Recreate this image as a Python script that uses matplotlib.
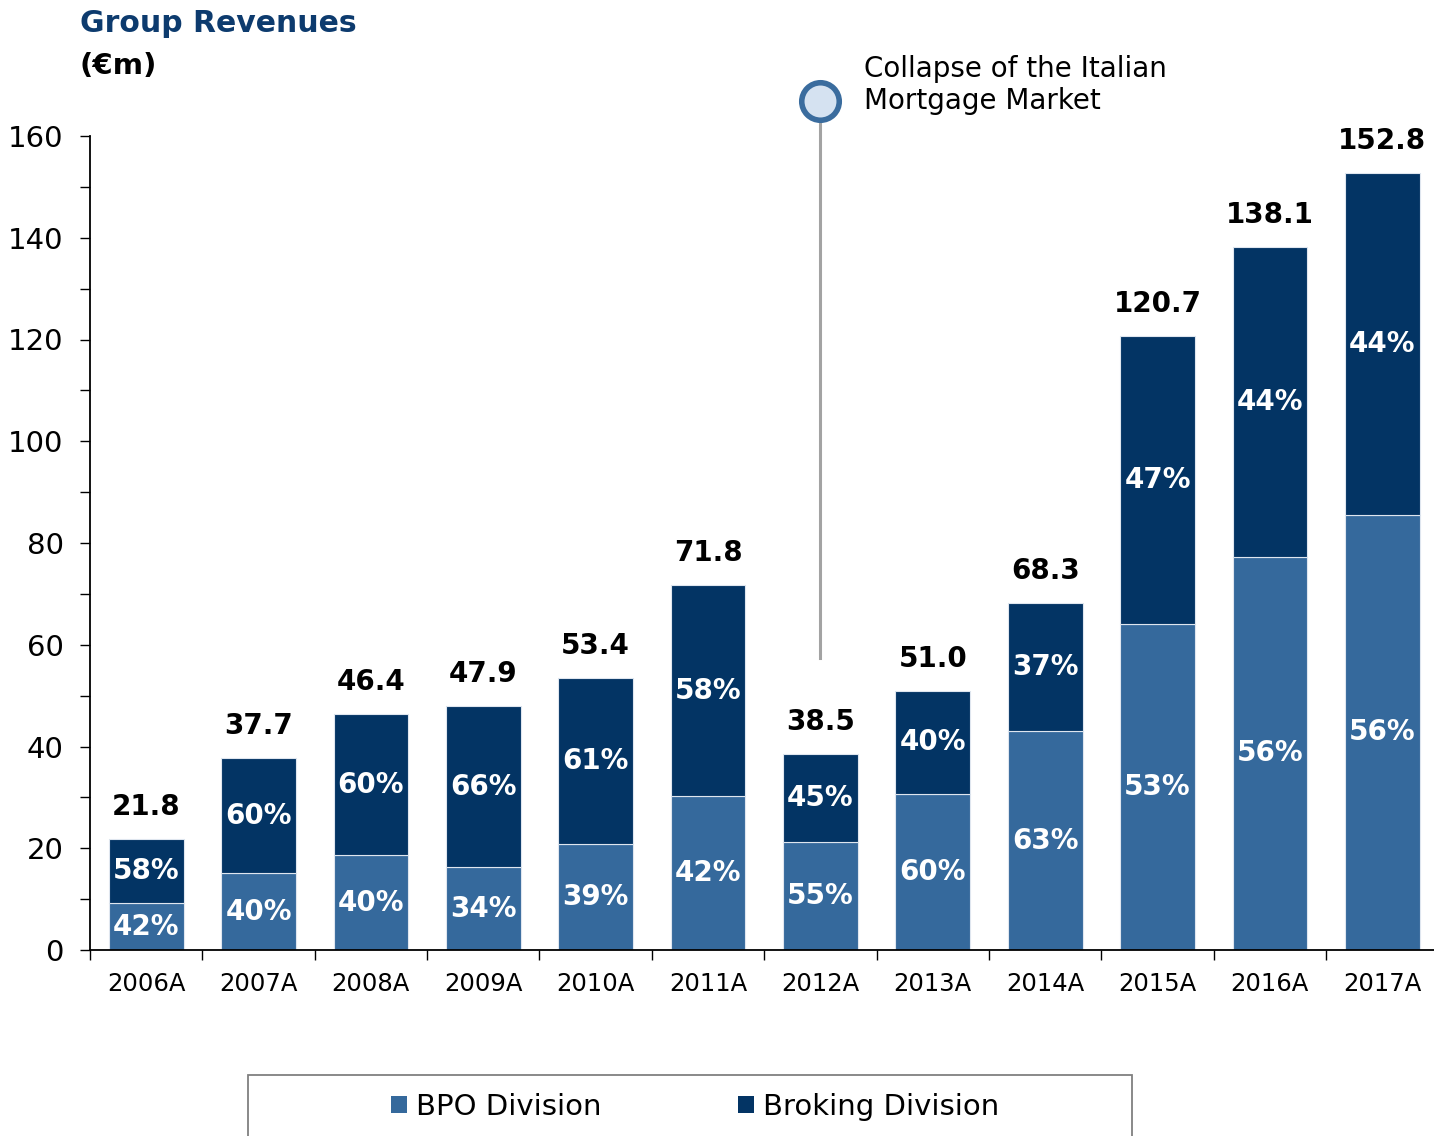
import matplotlib
matplotlib.use("Agg")
import matplotlib.pyplot as plt
from matplotlib.ticker import MultipleLocator, FixedLocator
from matplotlib.patches import Rectangle, Patch

# ---- data ----
years = ["2006A", "2007A", "2008A", "2009A", "2010A", "2011A",
         "2012A", "2013A", "2014A", "2015A", "2016A", "2017A"]
totals = [21.8, 37.7, 46.4, 47.9, 53.4, 71.8, 38.5, 51.0, 68.3, 120.7, 138.1, 152.8]
bpo = [9.2, 15.1, 18.6, 16.3, 20.8, 30.2, 21.2, 30.6, 43.0, 64.0, 77.3, 85.6]
broking = [12.6, 22.6, 27.8, 31.6, 32.6, 41.6, 17.3, 20.4, 25.3, 56.7, 60.8, 67.2]
bpo_pct = ["42%", "40%", "40%", "34%", "39%", "42%", "55%", "60%", "63%", "53%", "56%", "56%"]
broking_pct = ["58%", "60%", "60%", "66%", "61%", "58%", "45%", "40%", "37%", "47%", "44%", "44%"]
total_labels = ["21.8", "37.7", "46.4", "47.9", "53.4", "71.8", "38.5", "51.0", "68.3", "120.7", "138.1", "152.8"]
event_year = "2012A"
event_text = "Collapse of the Italian\nMortgage Market"

BPO_C = "#35699C"
BRK_C = "#033464"
TITLE_C = "#0D3B6E"

plt.rcParams["font.family"] = ["DejaVu Sans"]

fig = plt.figure(figsize=(14.34, 11.36), dpi=100)
ax = fig.add_axes([90/1434, 1-950/1136, 1-90/1434, (950-136)/1136])

x = list(range(len(years)))
w = 0.665
ax.bar(x, bpo, width=w, color=BPO_C, edgecolor="#dfe6ef", linewidth=0.8, label="BPO Division", zorder=2)
ax.bar(x, broking, width=w, bottom=bpo, color=BRK_C, edgecolor="#dfe6ef", linewidth=0.8, label="Broking Division", zorder=2)

for i in x:
    ax.text(i, bpo[i]/2, bpo_pct[i], ha="center", va="center", color="white",
            fontsize=20, fontweight="bold", zorder=3)
    ax.text(i, bpo[i] + broking[i]/2, broking_pct[i], ha="center", va="center", color="white",
            fontsize=20, fontweight="bold", zorder=3)
    ax.annotate(total_labels[i], (i, totals[i]), xytext=(0, 23), textcoords="offset points",
                ha="center", va="center", fontsize=20, fontweight="bold", color="black")

ax.set_xlim(-0.5, 11.46)
ax.set_ylim(0, 160)

ax.spines["top"].set_visible(False)
ax.spines["right"].set_visible(False)
ax.spines["left"].set_linewidth(1.3)
ax.spines["bottom"].set_linewidth(1.3)

ax.yaxis.set_major_locator(MultipleLocator(20))
ax.yaxis.set_minor_locator(MultipleLocator(10))
ax.tick_params(axis="y", which="both", direction="out", length=7, width=1, labelsize=21, pad=12)

ax.xaxis.set_major_locator(FixedLocator(x))
ax.set_xticklabels(years)
ax.xaxis.set_minor_locator(FixedLocator([i - 0.5 for i in x]))
ax.tick_params(axis="x", which="major", length=0, labelsize=17.5, pad=16)
ax.tick_params(axis="x", which="minor", direction="out", length=7, width=1)

# event annotation
ei = years.index(event_year)
ax.plot([ei, ei], [57.4, 166.9], color="#A3A3A3", linewidth=2.2, clip_on=False, zorder=1)
ax.plot([ei], [166.9], marker="o", markersize=27, markerfacecolor="#D5E2F1",
        markeredgecolor="#3A6C9E", markeredgewidth=4, clip_on=False, zorder=4)
ax.text(ei + 0.39, 170.0, event_text, ha="left", va="center", fontsize=20,
        color="black", linespacing=1.2, clip_on=False)

# titles
fig.text(80/1434, 1-23/1136, "Group Revenues", color=TITLE_C, fontsize=21.5,
         fontweight="bold", ha="left", va="center")
fig.text(80/1434, 1-66/1136, "(€m)", color="black", fontsize=21,
         fontweight="bold", ha="left", va="center")

# legend box
fig.patches.append(Rectangle((248/1434, -0.01), 884/1434, 0.01 + 1-1075/1136,
                             transform=fig.transFigure, fill=False,
                             edgecolor="#808080", linewidth=1.3, clip_on=False))
handles = [Patch(facecolor=BPO_C, edgecolor="none", label="BPO Division"),
           Patch(facecolor=BRK_C, edgecolor="none", label="Broking Division")]
fig.legend(handles=handles, loc="center", bbox_to_anchor=(695/1434, 1-1107/1136),
           ncol=2, frameon=False, fontsize=21, handlelength=0.55, handleheight=0.55,
           handletextpad=0.3, columnspacing=4.7)

fig.savefig("out.png", dpi=100)
